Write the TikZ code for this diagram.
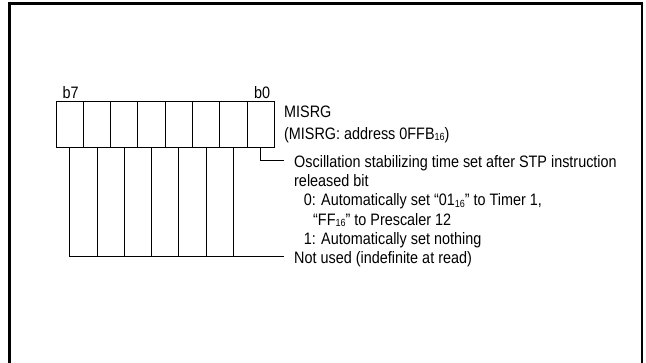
\documentclass[tikz,border=0pt]{standalone}
\usepackage{graphicx}
\usepackage{fontspec}
\setmainfont{Liberation Sans}
\newcommand\subsc[1]{\raisebox{-1.2pt}{\fontsize{9}{9}\selectfont #1}}
\newcommand\tall[1]{\scalebox{1}[1.15]{#1}}
\begin{document}
\begin{tikzpicture}[x=1pt,y=-1pt,
  cell/.style={draw,line width=0.9pt,minimum width=27.3pt,minimum height=46pt,inner sep=0pt,outer sep=0pt},
  lbl/.style={inner sep=0pt,anchor=base west,font=\fontsize{14.4}{19.2}\selectfont},
  wire/.style={line width=0.9pt}]
\useasboundingbox (0,0) rectangle (646,362);
\clip (0,0) rectangle (646,362);
\draw[line width=2.5pt] (9.7,3.7) rectangle (642,380);
% register cells b7..b0
\foreach \i in {7,...,0}{
  \node[cell] (c\i) at ({56+27.3*(7-\i)+13.65},124.7) {};
}
\node[lbl] (b7) at (62.5,98.5) {\tall{b7}};
\node[lbl] (b0) at (254,98.5) {\tall{b0}};
\node[lbl] (name) at (284,117) {\tall{MISRG}};
\node[lbl] (addr) at (284,139.5) {\tall{(MISRG: address 0FFB\subsc{16})}};
% descriptions
\node[lbl] (osc) at (294,167.5) {\tall{Oscillation stabilizing time set after STP instruction}};
\node[lbl] (rel) at (294,186.7) {\tall{released bit}};
\node[lbl] (z1) at (303.7,205.9) {\tall{0: Automatically set “01\subsc{16}” to Timer 1,}};
\node[lbl] (z2) at (313,225.1) {\tall{“FF\subsc{16}” to Prescaler 12}};
\node[lbl] (one) at (303.7,244.3) {\tall{1: Automatically set nothing}};
\node[lbl] (nu) at (294,263.5) {\tall{Not used (indefinite at read)}};
\coordinate (oscend) at (283.5,160.7);
\coordinate (nuend) at (284,256.5);
% connectors
\draw[wire] (c0.south) |- (oscend);
\foreach \i in {7,...,1}{
  \draw[wire] (c\i.south) -- (c\i.south |- nuend);
}
\draw[wire] (c7.south |- nuend) -- (nuend);
\end{tikzpicture}
\end{document}
